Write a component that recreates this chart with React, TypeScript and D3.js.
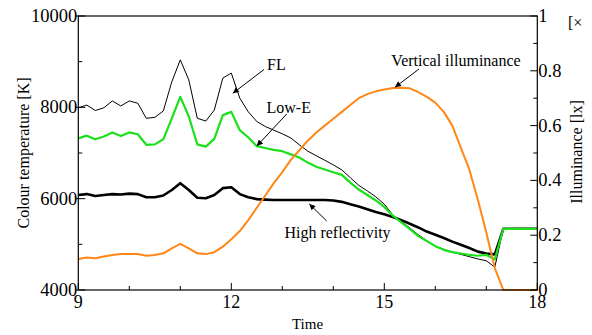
import * as d3 from 'd3';

// 10-minute readings, 9:00 to 18:00
const times = [
  '9:00', '9:10', '9:20', '9:30', '9:40', '9:50',
  '10:00', '10:10', '10:20', '10:30', '10:40', '10:50',
  '11:00', '11:10', '11:20', '11:30', '11:40', '11:50',
  '12:00', '12:10', '12:20', '12:30', '12:40', '12:50',
  '13:00', '13:10', '13:20', '13:30', '13:40', '13:50',
  '14:00', '14:10', '14:20', '14:30', '14:40', '14:50',
  '15:00', '15:10', '15:20', '15:30', '15:40', '15:50',
  '16:00', '16:10', '16:20', '16:30', '16:40', '16:50',
  '17:00', '17:10', '17:20', '17:30', '17:40', '17:50',
  '18:00',
];

const flValues = [
  7990, 8050, 7930, 7990, 8140, 8030, 8140, 8090, 7760, 7780,
  7920, 8560, 9040, 8600, 7760, 7700, 7940, 8640, 8750, 8200,
  7900, 7690, 7580, 7500, 7420, 7330, 7180, 7040, 6940, 6840,
  6740, 6630, 6460, 6290, 6170, 6040, 5880, 5640, 5500, 5360,
  5210, 5080, 4960, 4890, 4830, 4780, 4730, 4680, 4640, 4500,
  5340, 5340, 5340, 5340, 5340,
];

const lowEValues = [
  7320, 7380, 7300, 7360, 7450, 7370, 7450, 7410, 7180, 7190,
  7300, 7760, 8230, 7800, 7190, 7140, 7310, 7830, 7900, 7500,
  7340, 7150, 7110, 7070, 7040, 6970, 6900, 6790, 6700, 6640,
  6580, 6520, 6350, 6200, 6080, 5960, 5820, 5630, 5480, 5340,
  5180, 5070, 4960, 4880, 4830, 4800, 4770, 4750, 4770, 4670,
  5340, 5340, 5340, 5340, 5340,
];

const highReflValues = [
  6080, 6100, 6060, 6080, 6100, 6090, 6110, 6100, 6030, 6030,
  6070, 6190, 6340, 6190, 6020, 6010, 6080, 6230, 6250, 6100,
  6030, 5990, 5980, 5970, 5970, 5970, 5970, 5970, 5970, 5970,
  5960, 5930, 5880, 5830, 5770, 5710, 5660, 5600, 5530, 5450,
  5370, 5280, 5210, 5140, 5060, 4990, 4920, 4840, 4800, 4780,
  5340, 5340, 5340, 5340, 5340,
];

// vertical illuminance, right axis
const illuminanceValues = [
  0.113, 0.119, 0.116, 0.122, 0.128, 0.131, 0.131, 0.131, 0.125, 0.128,
  0.134, 0.152, 0.168, 0.152, 0.134, 0.131, 0.138, 0.158, 0.185, 0.215,
  0.255, 0.3, 0.345, 0.39, 0.43, 0.475, 0.51, 0.545, 0.575, 0.6,
  0.625, 0.65, 0.675, 0.7, 0.715, 0.725, 0.732, 0.737, 0.738, 0.736,
  0.722, 0.705, 0.684, 0.65, 0.6, 0.52, 0.44, 0.33, 0.21, 0.08,
  0, 0, 0, 0, 0,
];

const xTicks = [9, 12, 15, 18];
const leftTicks = [4000, 6000, 8000, 10000];
const rightTicks = [0, 0.2, 0.4, 0.6, 0.8, 1];

const font = '"Liberation Serif", "Times New Roman", serif';

const toHours = (s: string) => {
  const [h, m] = s.split(':').map(Number);
  return h + m / 60;
};

export default function App() {
  const width = 592;
  const height = 335;
  const left = 78.3;
  const right = 537.3;
  const top = 16;
  const bottom = 290;

  const x = d3.scaleLinear().domain([9, 18]).range([left, right]);
  const yLeft = d3.scaleLinear().domain([4000, 10000]).range([bottom, top]);
  const yRight = d3.scaleLinear().domain([0, 1]).range([bottom, top]);

  const hours = times.map(toHours);

  const lineLeft = d3
    .line<number>()
    .x((_, i) => x(hours[i]))
    .y((d) => yLeft(d));
  const lineRight = d3
    .line<number>()
    .x((_, i) => x(hours[i]))
    .y((d) => yRight(d));

  const xMinor = x.ticks(9).filter((t) => !xTicks.includes(t));
  const leftMinor = yLeft.ticks(6).filter((t) => !leftTicks.includes(t));
  const rightMinor = yRight
    .ticks(10)
    .filter((t) => !rightTicks.some((r) => Math.abs(r - t) < 1e-9));

  // annotation arrows: tip in data units, start and label offsets in px
  const notes = [
    { label: 'FL', tx: x(12.03), ty: yLeft(8307), sx: 264, sy: 69.5, lx: 267, ly: 69.5, anchor: 'start' },
    { label: 'Low-E', tx: x(12.5), ty: yLeft(7153), sx: 286.7, sy: 114, lx: 266.5, ly: 112.5, anchor: 'start' },
    { label: 'Vertical illuminance', tx: x(15.21), ty: yRight(0.74), sx: 419, sy: 69, lx: 456, ly: 66, anchor: 'middle' },
    { label: 'High reflectivity', tx: x(13.53), ty: yLeft(5883), sx: 326.7, sy: 221, lx: 337.5, ly: 238, anchor: 'middle' },
  ];

  return (
    <svg
      width={width}
      height={height}
      viewBox={`0 0 ${width} ${height}`}
      style={{ position: 'absolute', left: 0, top: 0, background: '#fff' }}
      fontFamily={font}
    >
      <defs>
        <marker
          id="arrow"
          viewBox="0 0 10 10"
          refX="10"
          refY="5"
          markerWidth="8"
          markerHeight="6"
          markerUnits="userSpaceOnUse"
          orient="auto"
        >
          <path d="M0,0 L10,5 L0,10 z" fill="#000" />
        </marker>
      </defs>

      {/* series */}
      <path d={lineLeft(highReflValues) ?? ''} fill="none" stroke="#000" strokeWidth={2.6} strokeLinejoin="round" />
      <path d={lineLeft(flValues) ?? ''} fill="none" stroke="#000" strokeWidth={1} strokeLinejoin="round" />
      <path d={lineLeft(lowEValues) ?? ''} fill="none" stroke="#1be01b" strokeWidth={2.2} strokeLinejoin="round" />
      <path d={lineRight(illuminanceValues) ?? ''} fill="none" stroke="#ff8717" strokeWidth={2} strokeLinejoin="round" />

      {/* frame */}
      <rect x={left} y={top} width={right - left} height={bottom - top} fill="none" stroke="#000" strokeWidth={1.2} />

      {/* bottom axis */}
      {xTicks.map((t) => (
        <g key={`x${t}`}>
          <line x1={x(t)} x2={x(t)} y1={bottom} y2={bottom - 7} stroke="#000" />
          <text x={x(t)} y={308} textAnchor="middle" fontSize={18}>
            {t}
          </text>
        </g>
      ))}
      {xMinor.map((t) => (
        <line key={`xm${t}`} x1={x(t)} x2={x(t)} y1={bottom} y2={bottom - 4} stroke="#000" />
      ))}
      <text x={307.5} y={329} textAnchor="middle" fontSize={15}>
        Time
      </text>

      {/* left axis */}
      {leftTicks.map((t) => (
        <g key={`l${t}`}>
          <line x1={left - 3} x2={left + 7} y1={yLeft(t)} y2={yLeft(t)} stroke="#000" />
          <text x={left - 1} y={yLeft(t) + 6} textAnchor="end" fontSize={18.5}>
            {t}
          </text>
        </g>
      ))}
      {leftMinor.map((t) => (
        <line key={`lm${t}`} x1={left} x2={left + 4} y1={yLeft(t)} y2={yLeft(t)} stroke="#000" />
      ))}
      <text transform={`translate(29,153) rotate(-90)`} textAnchor="middle" fontSize={16}>
        Colour temperature [K]
      </text>

      {/* right axis */}
      {rightTicks.map((t) => (
        <g key={`r${t}`}>
          <line x1={right - 7} x2={right} y1={yRight(t)} y2={yRight(t)} stroke="#000" />
          <text x={right + 1} y={yRight(t) + 6} textAnchor="start" fontSize={18.5}>
            {t}
          </text>
        </g>
      ))}
      {rightMinor.map((t) => (
        <line key={`rm${t}`} x1={right - 4} x2={right} y1={yRight(t)} y2={yRight(t)} stroke="#000" />
      ))}
      <text transform={`translate(582,152) rotate(-90)`} textAnchor="middle" fontSize={16}>
        Illuminance [lx]
      </text>
      <text x={568} y={28} fontSize={16}>
        [×
      </text>

      {/* annotations */}
      {notes.map((n) => (
        <g key={n.label}>
          <line x1={n.sx} y1={n.sy} x2={n.tx} y2={n.ty} stroke="#000" strokeWidth={1} markerEnd="url(#arrow)" />
          <text x={n.lx} y={n.ly} textAnchor={n.anchor} fontSize={16}>
            {n.label}
          </text>
        </g>
      ))}
    </svg>
  );
}
